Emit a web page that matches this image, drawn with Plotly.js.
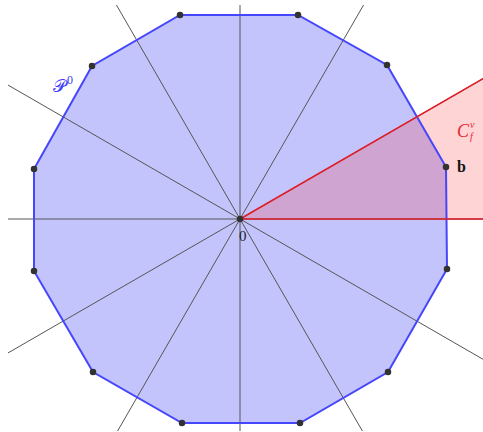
<!DOCTYPE html>
<html>
<head>
<meta charset="utf-8">
<script src="https://cdn.plot.ly/plotly-3.0.1.min.js"></script>
<style>html,body{margin:0;padding:0;background:#fff;}#chart{width:483px;height:432px;}</style>
</head>
<body>
<div id="chart"></div>
<script>
// Dodecagon P^0 vertices (units relative to the origin 0, y up)
const vertX = [206, 147, 58, -60, -148, -206, -206, -147, -58, 60, 148, 207];
const vertY = [52, 154, 204, 204, 153, 50, -52, -153, -204, -204, -153, -50];
// Directions (degrees) of the lines through the origin
const lineAngles = [0, 30, 60, 90, 120, 150];
// Boundary directions (degrees) of the cone C_f^v
const coneAngles = [0, 30];
// Labelled point b (a vertex of P^0)
const bPoint = [206, 52];

const L = 2000;
const rad = a => a * Math.PI / 180;

const traces = [];

// polygon fill
traces.push({
  x: vertX.concat([vertX[0]]), y: vertY.concat([vertY[0]]),
  mode: 'lines', fill: 'toself', fillcolor: 'rgb(196,196,252)',
  line: {width: 0, color: 'rgba(0,0,0,0)'}, hoverinfo: 'skip', showlegend: false
});

// lines through origin
const lx = [], ly = [];
lineAngles.forEach(a => {
  lx.push(-L * Math.cos(rad(a)), L * Math.cos(rad(a)), null);
  ly.push(-L * Math.sin(rad(a)), L * Math.sin(rad(a)), null);
});
traces.push({
  x: lx, y: ly, mode: 'lines', line: {color: 'rgb(85,85,85)', width: 1},
  hoverinfo: 'skip', showlegend: false
});

// cone fill
traces.push({
  x: [0, L * Math.cos(rad(coneAngles[0])), L * Math.cos(rad(coneAngles[1])), 0],
  y: [0, L * Math.sin(rad(coneAngles[0])), L * Math.sin(rad(coneAngles[1])), 0],
  mode: 'lines', fill: 'toself', fillcolor: 'rgba(255,40,40,0.2)',
  line: {width: 0, color: 'rgba(0,0,0,0)'}, hoverinfo: 'skip', showlegend: false
});

// polygon edges
traces.push({
  x: vertX.concat([vertX[0]]), y: vertY.concat([vertY[0]]),
  mode: 'lines', line: {color: 'rgb(70,70,250)', width: 2},
  hoverinfo: 'skip', showlegend: false
});

// cone boundary rays
traces.push({
  x: [L * Math.cos(rad(coneAngles[0])), 0, L * Math.cos(rad(coneAngles[1]))],
  y: [L * Math.sin(rad(coneAngles[0])), 0, L * Math.sin(rad(coneAngles[1]))],
  mode: 'lines', line: {color: 'rgb(225,30,40)', width: 1.5},
  hoverinfo: 'skip', showlegend: false
});

// vertices and origin
traces.push({
  x: vertX.concat([0]), y: vertY.concat([0]),
  mode: 'markers', marker: {color: 'rgb(50,50,50)', size: 6.5},
  hoverinfo: 'skip', showlegend: false
});

const serif = 'Liberation Serif, DejaVu Serif, serif';
const annotations = [
  {x: -180, y: 134, text: '𝒫', font: {family: 'DejaVu Sans, Noto Sans, serif', size: 18, color: 'rgb(60,60,250)'}},
  {x: -170, y: 139, text: '0', font: {family: serif, size: 12, color: 'rgb(60,60,250)'}},
  {x: 3, y: -17, text: '0', font: {family: serif, size: 15, color: 'rgb(30,30,30)'}},
  {x: bPoint[0] + 15, y: bPoint[1] + 1, text: '<b>b</b>', font: {family: serif, size: 16, color: 'rgb(20,20,20)'}},
  {x: 223, y: 88, text: '<i>C</i>', font: {family: serif, size: 18, color: 'rgb(230,40,50)'}},
  {x: 232, y: 95, text: '<i>v</i>', font: {family: serif, size: 10, color: 'rgb(230,40,50)'}},
  {x: 232, y: 83, text: '<i>f</i>', font: {family: serif, size: 10, color: 'rgb(230,40,50)'}}
].map(a => Object.assign({showarrow: false, xref: 'x', yref: 'y', xanchor: 'center', yanchor: 'middle'}, a));

const layout = {
  width: 483, height: 432,
  margin: {l: 8, r: 0, t: 5, b: 1},
  paper_bgcolor: '#fff', plot_bgcolor: 'rgba(0,0,0,0)',
  xaxis: {range: [-232, 243], visible: false, fixedrange: true},
  yaxis: {range: [-212, 214], visible: false, fixedrange: true},
  annotations: annotations,
  showlegend: false
};

Plotly.newPlot('chart', traces, layout, {displayModeBar: false, staticPlot: true});
</script>
</body>
</html>
